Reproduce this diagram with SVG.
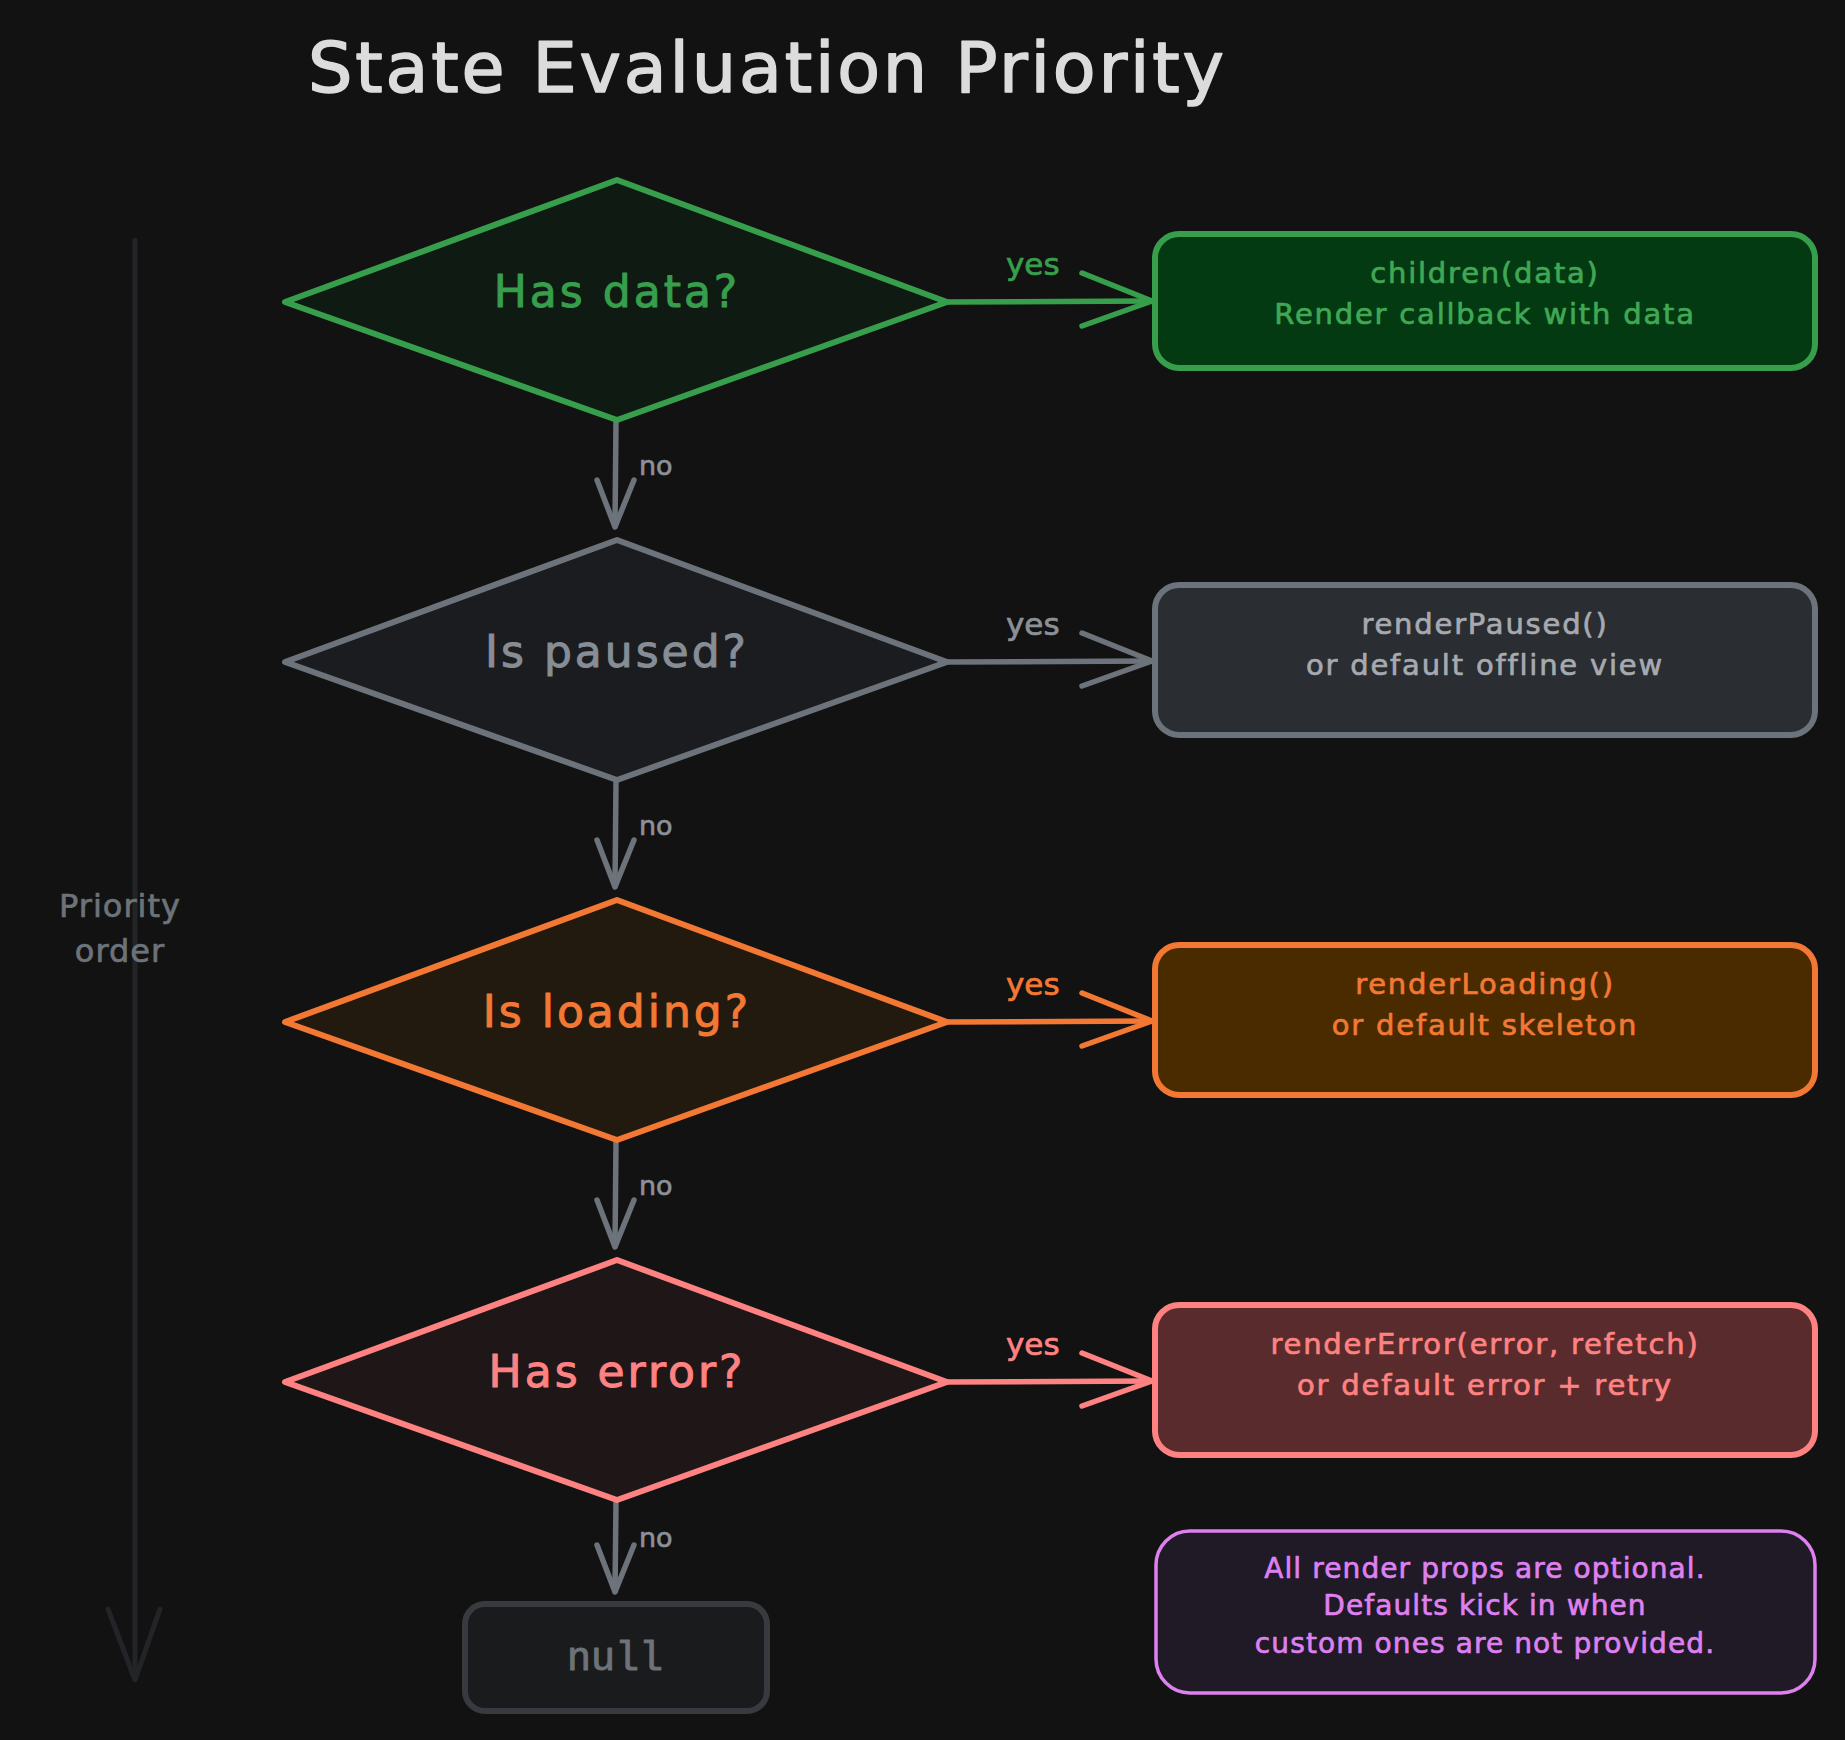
<svg xmlns="http://www.w3.org/2000/svg" width="1845" height="1740" viewBox="0 0 1845 1740">
<style>
text{font-family:"DejaVu Sans","Liberation Sans",sans-serif;fill:currentColor;stroke:currentColor;stroke-width:0.7px;stroke-linejoin:round}
.title{font-size:70px;stroke-width:1.6px}
.dl{font-size:44px;letter-spacing:3px;text-anchor:middle;stroke-width:1px}
.bt{font-size:29px;letter-spacing:1.8px;text-anchor:middle}
.nt{font-size:28px;letter-spacing:1.1px;text-anchor:middle}
.lbl{font-size:31px}
.no{font-size:27px}
.side{font-size:32px;text-anchor:middle;letter-spacing:1px}
.mono{font-family:"Liberation Mono","DejaVu Sans Mono",monospace;font-size:40px;text-anchor:middle;stroke-width:1px}
.dia{stroke-width:6;stroke-linejoin:round}
.box{stroke-width:6}
.conn{fill:none;stroke-width:5.5;stroke-linecap:round;stroke-linejoin:round}
</style>
<rect width="1845" height="1740" fill="#121212"/>
<text class="title" x="308" y="92" textLength="916" color="#dcdcdc">State Evaluation Priority</text>

<g id="priority-axis">
<line x1="135" y1="240" x2="135" y2="1678" stroke="#232427" stroke-width="5" stroke-linecap="round"/>
<polyline points="108,1609 135,1680 160,1609" fill="none" stroke="#232427" stroke-width="5" stroke-linecap="round" stroke-linejoin="round"/>
<text class="side" x="120" y="917" color="#6c737a">Priority</text>
<text class="side" x="120" y="962" color="#6c737a">order</text>
</g>

<g id="connectors">
<g class="conn" stroke="#379e4c">
<path d="M947,302 L1152,301"/>
<polyline points="1082,273 1152,301 1082,326"/>
</g>
<text class="lbl" x="1006" y="275" color="#379e4c">yes</text>
<g class="conn" stroke="#6c737b">
<path d="M947,662 L1152,661"/>
<polyline points="1082,633 1152,661 1082,686"/>
</g>
<text class="lbl" x="1006" y="635" color="#8b9097">yes</text>
<g class="conn" stroke="#f27834">
<path d="M947,1022 L1152,1021"/>
<polyline points="1082,993 1152,1021 1082,1046"/>
</g>
<text class="lbl" x="1006" y="995" color="#f27834">yes</text>
<g class="conn" stroke="#fe8282">
<path d="M947,1382 L1152,1381"/>
<polyline points="1082,1353 1152,1381 1082,1406"/>
</g>
<text class="lbl" x="1006" y="1355" color="#fe8282">yes</text>

<g class="conn" stroke="#6c737b">
<path d="M616,422 L615,526"/>
<polyline points="597,480 615,527 634,480"/>
<path d="M616,782 L615,886"/>
<polyline points="597,840 615,887 634,840"/>
<path d="M616,1142 L615,1246"/>
<polyline points="597,1200 615,1247 634,1200"/>
<path d="M616,1502 L615,1591"/>
<polyline points="597,1545 615,1592 634,1545"/>
</g>
<text class="no" x="639" y="475" color="#8b9097">no</text>
<text class="no" x="639" y="835" color="#8b9097">no</text>
<text class="no" x="639" y="1195" color="#8b9097">no</text>
<text class="no" x="639" y="1547" color="#8b9097">no</text>
</g>

<g id="has-data">
<polygon class="dia" points="285,302 617,180 947,302 617,420" fill="#0f1a13" stroke="#379e4c"/>
<text class="dl" x="617" y="307" color="#379e4c">Has data?</text>
</g>
<g id="is-paused">
<polygon class="dia" points="285,662 617,540 947,662 617,780" fill="#1b1c1f" stroke="#6c737b"/>
<text class="dl" x="617" y="667" color="#868d95">Is paused?</text>
</g>
<g id="is-loading">
<polygon class="dia" points="285,1022 617,900 947,1022 617,1140" fill="#231a0f" stroke="#f27834"/>
<text class="dl" x="617" y="1027" color="#f27834">Is loading?</text>
</g>
<g id="has-error">
<polygon class="dia" points="285,1382 617,1260 947,1382 617,1500" fill="#1f1618" stroke="#fe8282"/>
<text class="dl" x="617" y="1387" color="#fe8282">Has error?</text>
</g>

<g id="render-data">
<rect class="box" x="1155" y="234" width="660" height="134" rx="24" fill="#033a11" stroke="#379e4c"/>
<text class="bt" x="1485" y="283" color="#40a855">children(data)</text>
<text class="bt" x="1485" y="324" color="#40a855">Render callback with data</text>
</g>
<g id="render-paused">
<rect class="box" x="1155" y="585" width="660" height="150" rx="24" fill="#2a2d32" stroke="#6c737b"/>
<text class="bt" x="1485" y="634" color="#a6aab0">renderPaused()</text>
<text class="bt" x="1485" y="675" color="#a6aab0">or default offline view</text>
</g>
<g id="render-loading">
<rect class="box" x="1155" y="945" width="660" height="150" rx="24" fill="#4a2b00" stroke="#f27834"/>
<text class="bt" x="1485" y="994" color="#f27834">renderLoading()</text>
<text class="bt" x="1485" y="1035" color="#f27834">or default skeleton</text>
</g>
<g id="render-error">
<rect class="box" x="1155" y="1305" width="660" height="150" rx="24" fill="#5a2b2c" stroke="#fe8282"/>
<text class="bt" x="1485" y="1354" color="#fe8282">renderError(error, refetch)</text>
<text class="bt" x="1485" y="1395" color="#fe8282">or default error + retry</text>
</g>
<g id="note">
<rect x="1156" y="1531" width="659" height="162" rx="34" fill="#201a26" stroke="#df80f0" stroke-width="3.5"/>
<text class="nt" x="1485" y="1578" color="#df80f0">All render props are optional.</text>
<text class="nt" x="1485" y="1615" color="#df80f0">Defaults kick in when</text>
<text class="nt" x="1485" y="1653" color="#df80f0">custom ones are not provided.</text>
</g>
<g id="null">
<rect x="465" y="1604" width="302" height="107" rx="20" fill="#1a1b1d" stroke="#373b40" stroke-width="6"/>
<text class="mono" x="615" y="1670" color="#6c737a">null</text>
</g>
</svg>
